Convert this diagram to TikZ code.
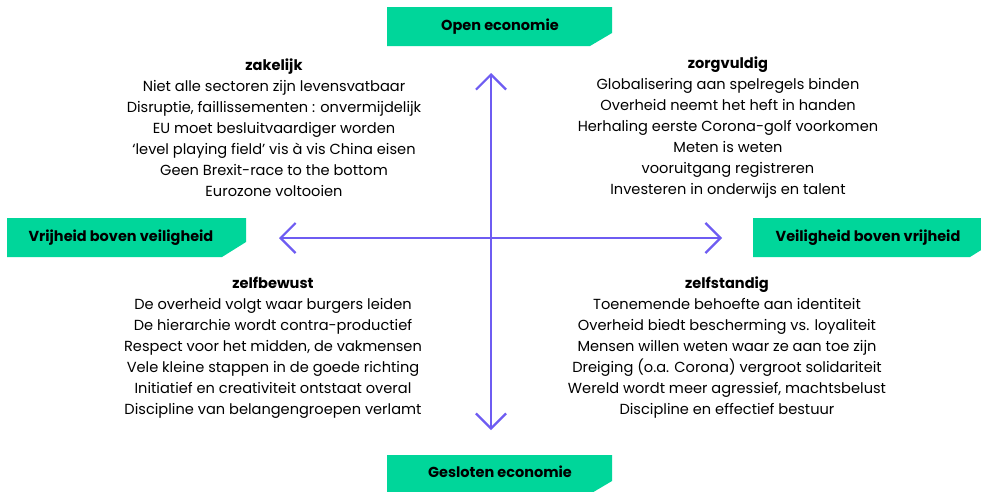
\documentclass[tikz,border=0pt]{standalone}
\usepackage{fontspec}
\setmainfont{Poppins}
\usetikzlibrary{arrows.meta}
\definecolor{tabgreen}{RGB}{0,214,154}
\definecolor{axispurple}{RGB}{110,92,242}
\tikzset{
  tabfill/.style={fill=tabgreen, draw=none},
  tablabel/.style={font=\bfseries\fontsize{14.5}{16}\selectfont, text=black, inner sep=0pt},
  quadtext/.style={align=center, font=\fontsize{14.6}{21}\selectfont, inner sep=0pt},
  axis/.style={draw=axispurple, line width=2.2pt,
    {Straight Barb[length=15pt,width=30pt,line width=2.2pt]}-{Straight Barb[length=15pt,width=30pt,line width=2.2pt]}}
}
\begin{document}
\begin{tikzpicture}[x=1pt,y=-1pt]
\useasboundingbox (0,0) rectangle (981,491);
\fill[white] (0,0) rectangle (981,491);
% tabs
\fill[tabfill] (387,7) -- (612,7) -- (612,33) -- (590,46) -- (387,46) -- cycle;
\fill[tabfill] (7,218) -- (246,218) -- (246,242) -- (222,257) -- (7,257) -- cycle;
\fill[tabfill] (753,218) -- (994,218) -- (994,242) -- (970,257) -- (753,257) -- cycle;
\fill[tabfill] (387,455) -- (612,455) -- (612,481) -- (590,494) -- (387,494) -- cycle;
\node[tablabel] (open) at (500,27) {Open economie};
\node[tablabel] (vrij) at (121,238) {Vrijheid boven veiligheid};
\node[tablabel] (veil) at (868,238) {Veiligheid boven vrijheid};
\node[tablabel] (gesl) at (500,472) {Gesloten economie};
% axes
\coordinate (top) at (491,73);
\coordinate (bot) at (491,430);
\coordinate (lft) at (279,238);
\coordinate (rgt) at (722,238);
\draw[axis] (top) -- (bot);
\draw[axis] (lft) -- (rgt);
% quadrant texts
\node[quadtext] (zak) at (274,127.5) {\textbf{zakelijk}\\
Niet alle sectoren zijn levensvatbaar\\
Disruptie, faillissementen : onvermijdelijk\\
EU moet besluitvaardiger worden\\
‘level playing field’ vis à vis China eisen\\
Geen Brexit-race to the bottom\\
Eurozone voltooien};
\node[quadtext] (zorg) at (728,127.5) {\textbf{zorgvuldig}\\
Globalisering aan spelregels binden\\
Overheid neemt het heft in handen\\
Herhaling eerste Corona-golf voorkomen\\
Meten is weten\\
vooruitgang registreren\\
Investeren in onderwijs en talent};
\node[quadtext] (zelfb) at (273,348) {\textbf{zelfbewust}\\
De overheid volgt waar burgers leiden\\
De hierarchie wordt contra-productief\\
Respect voor het midden, de vakmensen\\
Vele kleine stappen in de goede richting\\
Initiatief en creativiteit ontstaat overal\\
Discipline van belangengroepen verlamt};
\node[quadtext] (zelfs) at (727,348) {\textbf{zelfstandig}\\
Toenemende behoefte aan identiteit\\
Overheid biedt bescherming vs. loyaliteit\\
Mensen willen weten waar ze aan toe zijn\\
Dreiging (o.a. Corona) vergroot solidariteit\\
Wereld wordt meer agressief, machtsbelust\\
Discipline en effectief bestuur};
\end{tikzpicture}
\end{document}
